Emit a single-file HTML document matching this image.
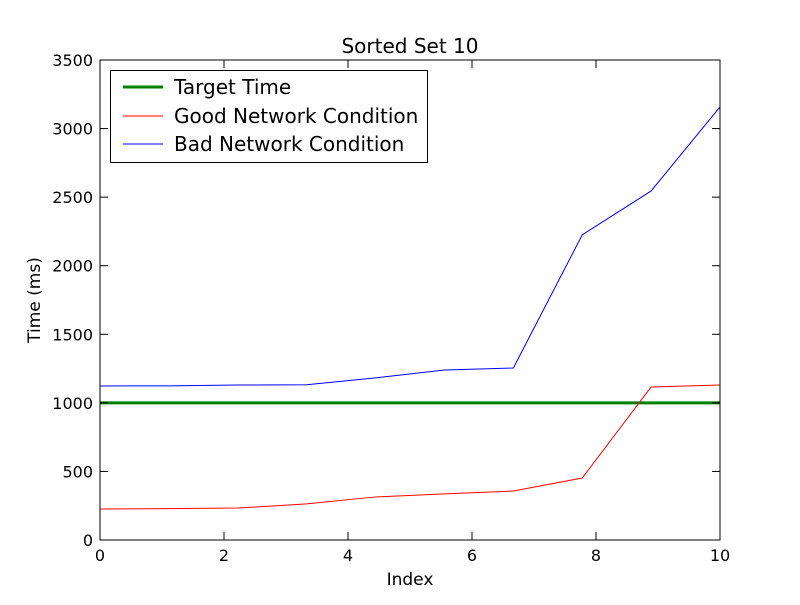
<!DOCTYPE html>
<html><head><meta charset="utf-8"><style>
body{margin:0;background:#fff;}
svg text{font-family:"DejaVu Sans","Liberation Sans",sans-serif;}
</style></head><body>
<svg id="chart" width="800" height="600">
<rect x="0" y="0" width="800" height="600" fill="#fff"/>
<g id="marks"></g>
<rect x="100" y="60" width="620" height="480" fill="none" stroke="#000" stroke-width="1"/>
<g id="ticks"></g>
<text x="410" y="53" font-size="20" text-anchor="middle">Sorted Set 10</text>
<text x="410" y="585" font-size="17" text-anchor="middle">Index</text>
<text transform="translate(40,300) rotate(-90)" font-size="17" text-anchor="middle">Time (ms)</text>
<g>
<rect x="110.5" y="70.5" width="317" height="92" fill="#fff" stroke="#000"/>
<line x1="123" y1="87" x2="163" y2="87" stroke="green" stroke-width="3"/>
<text x="174" y="94" font-size="20">Target Time</text>
<line x1="123" y1="116" x2="163" y2="116" stroke="red" stroke-width="1"/>
<text x="174" y="123" font-size="20">Good Network Condition</text>
<line x1="123" y1="144" x2="163" y2="144" stroke="blue" stroke-width="1"/>
<text x="174" y="151" font-size="20">Bad Network Condition</text>
</g>
</svg>
<script>
const xValues=[0,1.111,2.222,3.333,4.444,5.556,6.667,7.778,8.889,10];
const goodValues=[226,229,233,263,314,336,357,452,1116,1130];
const badValues=[1123,1124,1130,1132,1182,1240,1254,2225,2545,3158];
const targetValue=1000;
const xTicks=[0,2,4,6,8,10];
const yTicks=[0,500,1000,1500,2000,2500,3000,3500];
const NS="http://www.w3.org/2000/svg";
function sx(v){return 100+v/10*620;}
function sy(v){return 540-v/3500*480;}
const marks=document.getElementById('marks');
const tg=document.getElementById('ticks');
function mk(t,a,p){const e=document.createElementNS(NS,t);for(const k in a)e.setAttribute(k,a[k]);p.appendChild(e);return e;}
const tl=mk('line',{x1:sx(0),x2:sx(10),y1:sy(targetValue),y2:sy(targetValue),stroke:'green','stroke-width':3},marks);


const g=mk('polyline',{points:xValues.map((x,i)=>sx(x)+','+sy(goodValues[i])).join(' '),fill:'none',stroke:'red','stroke-width':1},marks);


const b=mk('polyline',{points:xValues.map((x,i)=>sx(x)+','+sy(badValues[i])).join(' '),fill:'none',stroke:'blue','stroke-width':1},marks);


xTicks.forEach(v=>{const x=sx(v);
mk('line',{x1:x,x2:x,y1:540,y2:532,stroke:'#000'},tg);
mk('line',{x1:x,x2:x,y1:60,y2:68,stroke:'#000'},tg);
const t=mk('text',{x:x,y:561,'font-size':16,'text-anchor':'middle'},tg);t.textContent=v;

});
yTicks.forEach(v=>{const y=sy(v);
mk('line',{x1:100,x2:108,y1:y,y2:y,stroke:'#000'},tg);
mk('line',{x1:712,x2:720,y1:y,y2:y,stroke:'#000'},tg);
const t=mk('text',{x:93,y:y+6,'font-size':16,'text-anchor':'end'},tg);t.textContent=v;

});
</script>
</body></html>
